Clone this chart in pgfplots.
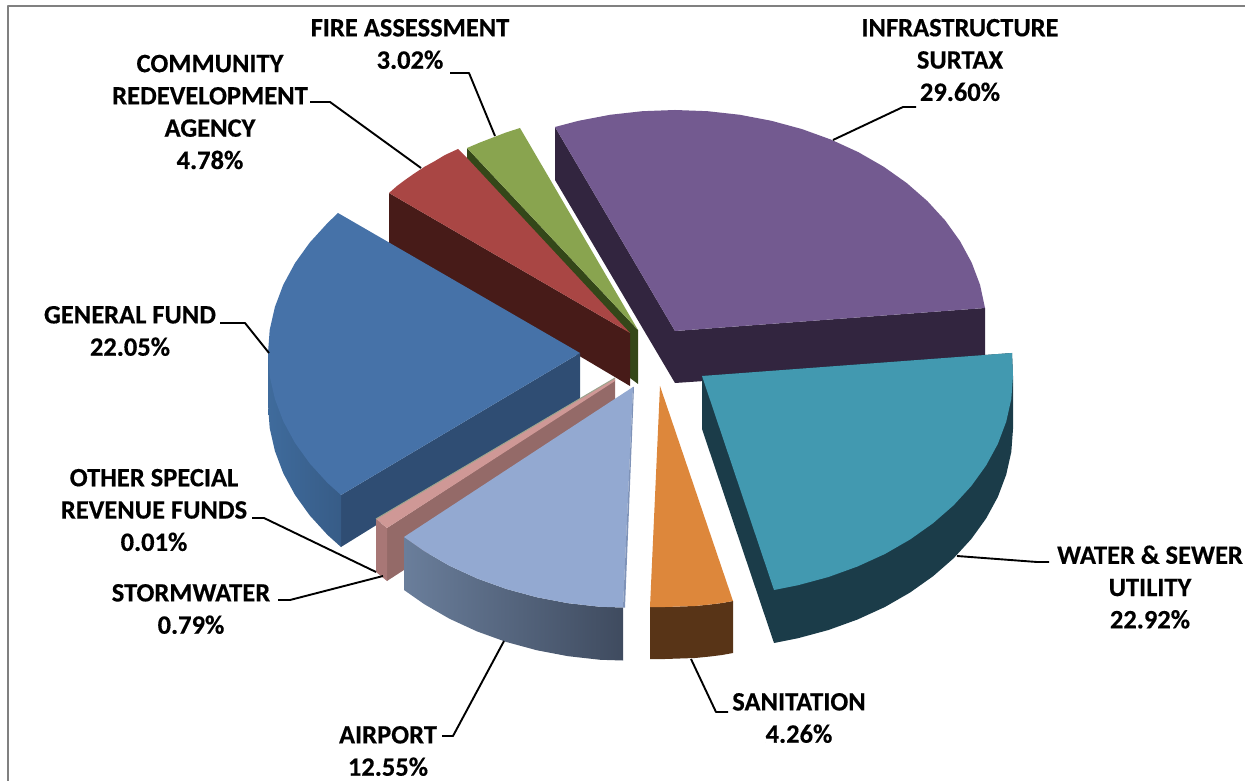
\documentclass[border=0pt]{standalone}
\usepackage{fontspec}
\setmainfont[BoldFeatures={FakeBold=0.4}]{Carlito}
\usepackage{pgfplots}
\pgfplotsset{compat=1.18}

\definecolor{purpleTop}{HTML}{735A90}
\definecolor{purpleWall}{HTML}{32253F}
\definecolor{tealTop}{HTML}{4299B0}
\definecolor{tealWall}{HTML}{1B3C49}
\definecolor{orangeTop}{HTML}{DD873B}
\definecolor{orangeWall}{HTML}{583417}
\definecolor{airportTop}{HTML}{93A9D1}
\definecolor{airportEdge}{HTML}{7F93B8}
\definecolor{airportWallL}{HTML}{6A7E9B}
\definecolor{airportWallR}{HTML}{3F4B5F}
\definecolor{pinkTop}{HTML}{CF9896}
\definecolor{pinkWall}{HTML}{946A68}
\definecolor{pinkWallL}{HTML}{A87776}
\definecolor{sliver}{HTML}{9CA48E}
\definecolor{blueTop}{HTML}{4672A8}
\definecolor{blueWall}{HTML}{2F4D73}
\definecolor{blueOuterL}{HTML}{3F6B9C}
\definecolor{blueOuterR}{HTML}{375C87}
\definecolor{redTop}{HTML}{A94644}
\definecolor{redWall}{HTML}{471B18}
\definecolor{greenTop}{HTML}{89A44F}
\definecolor{greenWall}{HTML}{344719}
\definecolor{frameGray}{HTML}{808080}

\tikzset{
    leader/.style={draw=black, line width=1.9bp},
    lab/.style={font=\fontsize{26.6}{32.4}\selectfont\bfseries, align=center, anchor=center, inner sep=0pt, text=black},
}

\begin{document}
\begin{tikzpicture}[x=1bp,y=1bp]
\path[use as bounding box] (0,0) rectangle (1245,781);
\begin{axis}[
    at={(0,0)}, anchor=south west,
    scale only axis,
    width=1245bp, height=781bp,
    xmin=0, xmax=1245, ymin=0, ymax=781,
    y dir=reverse,
    hide axis,
    clip=false,
    no markers,
    every axis plot/.append style={draw=none, line join=round},
]
% frame, open at the right and the bottom
\addplot[draw=frameGray, line width=2bp] coordinates {(8,781) (8,6) (1245,6)};

% infrastructure surtax
\addplot[fill=purpleWall] coordinates {(555,127) (675,331) (985,308) (985,362) (675,383) (555,180)};
\addplot[fill=purpleTop] coordinates {(675,331) (555,127) (578.6,120.8) (610.1,114.8) (642.4,111.2) (675,110) (707.6,111.2) (739.9,114.8) (771.4,120.8) (802,129.1) (831,139.6) (858.4,152.2) (883.8,166.8) (906.8,183.1) (927.4,201.1) (945.2,220.5) (960,241.1) (971.7,262.7) (980.1,285) (985,308)};

% fire assessment
\addplot[fill=greenWall] coordinates {(467,148) (467,162) (630,337) (630,378) (638,384) (638,330)};
\addplot[fill=greenTop] coordinates {(638,330) (467,148) (480,142.5) (493,137.5) (506,132.5) (520,128)};

% community redevelopment agency
\addplot[fill=redWall] coordinates {(389,193) (630,333) (630,386) (389,243)};
\addplot[fill=redTop] coordinates {(630,333) (389,193) (397,186) (405,180) (415,173) (425,166.5) (435,161) (445,155) (458,149) (467,158)};

% general fund
\addplot[fill=blueWall] coordinates {(580,353) (341,495) (341,547) (580,399)};
\addplot[left color=blueOuterL, right color=blueOuterR] coordinates {(268,353) (268,405) (269.7,428.1) (274.9,451) (283.3,473.3) (295,494.9) (309.8,515.5) (327.6,535) (341,547) (341,495)};
\addplot[fill=blueTop] coordinates {(580,353) (338,213) (327.6,223) (309.8,242.5) (295,263.1) (283.3,284.7) (274.9,307) (269.7,329.9) (268,353) (269.7,376.1) (274.9,399) (283.3,421.3) (295,442.9) (309.8,463.5) (327.6,483) (341,495)};

% stormwater and other special revenue funds
\addplot[fill=pinkWall] coordinates {(387,528) (615,380) (615,433) (387,581)};
\addplot[fill=pinkWallL] coordinates {(376,519) (387,528) (387,581) (376,572)};
\addplot[fill=pinkTop] coordinates {(615,378) (376,519) (387,528) (615,381)};
\addplot[draw=sliver, line width=1bp] coordinates {(376,519) (615,378)};

% airport
\addplot[left color=airportWallL, right color=airportWallR] coordinates {(404,537) (424.3,551.2) (449.6,565.8) (477,578.4) (506.1,588.9) (536.6,597.2) (568.1,603.2) (600.4,606.8) (623,607.5) (623,660.5) (600.4,659.8) (568.1,656.2) (536.6,650.2) (506.1,641.9) (477,631.4) (449.6,618.8) (424.3,604.2) (404,590)};
\addplot[fill=airportTop] coordinates {(633,387) (404,537) (424.3,551.2) (449.6,565.8) (477,578.4) (506.1,588.9) (536.6,597.2) (568.1,603.2) (600.4,606.8) (623,607.5)};
\addplot[fill=airportEdge] coordinates {(633,387) (623,607.5) (625,607.5) (634,387)};

% sanitation
\addplot[fill=orangeWall] coordinates {(650,607) (665,607) (680,606.5) (695,606) (710,604.5) (722,603) (733,601) (733,653) (722,655) (710,656.5) (695,658) (680,658.5) (665,659) (650,659)};
\addplot[fill=orangeTop] coordinates {(660,386) (733,601) (722,603) (710,604.5) (695,606) (680,606.5) (665,607) (650,607)};

% water and sewer utility
\addplot[fill=tealWall] coordinates {(702,376) (1012,353) (1013,376) (1013,429) (1011.3,452) (1006.2,474.7) (997.8,497) (986.1,518.5) (971.3,539) (953.6,558.3) (933.1,576.2) (910.1,592.5) (884.9,607) (857.5,619.5) (828.5,630) (798.1,638.2) (774,643) (702,429)};
\addplot[fill=tealTop] coordinates {(702,376) (1012,353) (1013,376) (1011.3,399) (1006.2,421.7) (997.8,444) (986.1,465.5) (971.3,486) (953.6,505.3) (933.1,523.2) (910.1,539.5) (884.9,554) (857.5,566.5) (828.5,577) (798.1,585.2) (774,590)};

% leader lines
\addplot[leader] coordinates {(450,73) (469,73) (495,136)};
\addplot[leader] coordinates {(310,102) (330,102) (421,168)};
\addplot[leader] coordinates {(833,140) (903,107) (916,107)};
\addplot[leader] coordinates {(220,323) (245,323) (269,353)};
\addplot[leader] coordinates {(252,518) (264,518) (376,572)};
\addplot[leader] coordinates {(278,600) (290,600) (383,576)};
\addplot[leader] coordinates {(442,736) (453,736) (504,641)};
\addplot[leader] coordinates {(691,659) (716,712) (728,712)};
\addplot[leader] coordinates {(957,556) (1037,562) (1049,562)};

% labels
\node[lab] at (axis cs:410,44) {FIRE ASSESSMENT\\3.02\%};
\node[lab] at (axis cs:210,112) {COMMUNITY\\REDEVELOPMENT\\AGENCY\\4.78\%};
\node[lab] at (axis cs:960,60) {INFRASTRUCTURE\\SURTAX\\29.60\%};
\node[lab] at (axis cs:130,331) {GENERAL FUND\\22.05\%};
\node[lab] at (axis cs:154,510) {OTHER SPECIAL\\REVENUE FUNDS\\0.01\%};
\node[lab] at (axis cs:191,609) {STORMWATER\\0.79\%};
\node[lab] at (axis cs:388,751) {AIRPORT\\12.55\%};
\node[lab] at (axis cs:799,718) {SANITATION\\4.26\%};
\node[lab] at (axis cs:1150,587) {WATER \& SEWER\\UTILITY\\22.92\%};
\end{axis}
\end{tikzpicture}
\end{document}
